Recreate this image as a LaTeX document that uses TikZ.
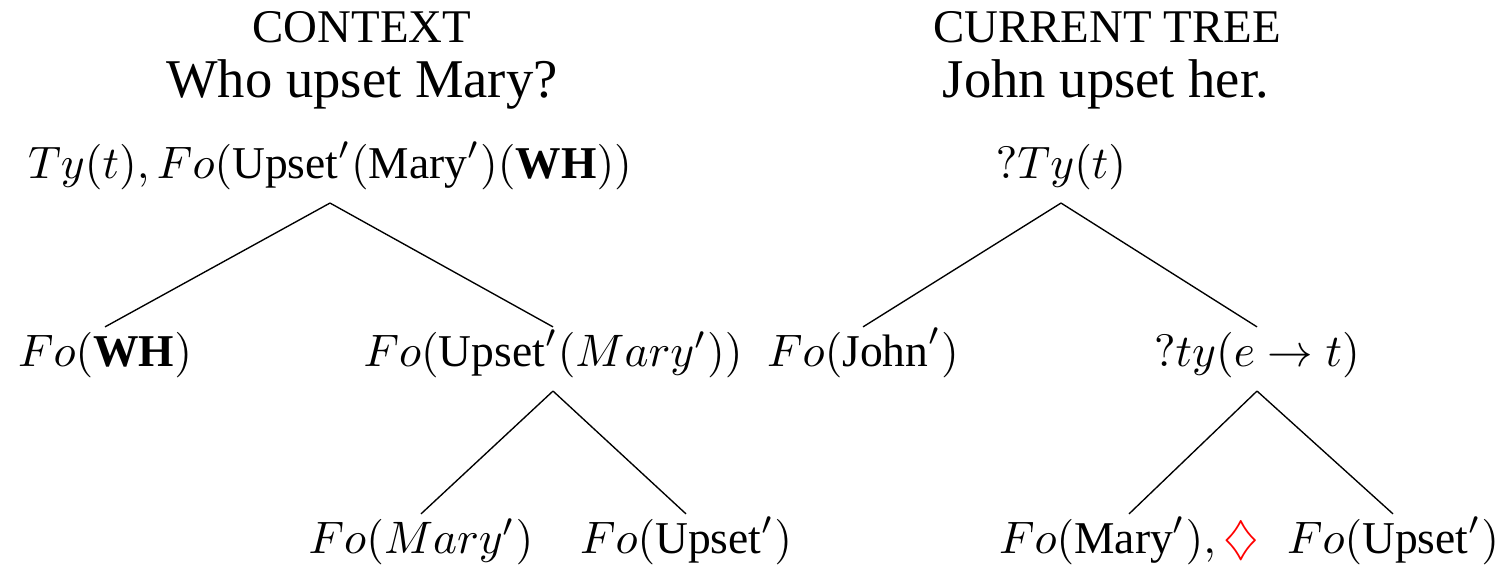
\documentclass[tikz,border=0pt]{standalone}
\usepackage[no-math]{fontspec}
\setmainfont{Liberation Serif}
\newcommand{\tw}[1]{\textnormal{#1}}
\newcommand{\tb}[1]{\textnormal{\bfseries #1}}
\begin{document}
\begin{tikzpicture}[x=0.21978pt, y=-0.21978pt,
  heading/.style={anchor=base, inner sep=0pt, font=\fontsize{10.3}{12}\selectfont},
  sentence/.style={anchor=base, inner sep=0pt, font=\fontsize{12}{14}\selectfont},
  treenode/.style={anchor=base, inner sep=0pt, text height=8.4pt, text depth=5.3pt},
  branch/.style={line width=0.3pt}]
\useasboundingbox (0,0) rectangle (1497,565);

% headings
\node[heading] (h1) at (362,42) {CONTEXT};
\node[sentence] (s1) at (362,97) {Who upset Mary?};
\node[heading] (h2) at (1107,42) {CURRENT TREE};
\node[sentence] (s2) at (1106,97) {John upset her.};

% context tree
\node[treenode] (c0) at (330,178) {$Ty(t), Fo(\tw{Upset}'(\tw{Mary}')(\tb{WH}))$};
\node[treenode] (c1) at (105,366) {$Fo(\tb{WH})$};
\node[treenode] (c2) at (553,366) {$Fo(\tw{Upset}'(Mary'))$};
\node[treenode] (c21) at (421,553) {$Fo(Mary')$};
\node[treenode] (c22) at (686,553) {$Fo(\tw{Upset}')$};

\draw[branch] (c0.south) -- (c1.north);
\draw[branch] (c0.south) -- (c2.north);
\draw[branch] (c2.south) -- (c21.north);
\draw[branch] (c2.south) -- (c22.north);

% current tree
\node[treenode] (t0) at (1061,178) {$?Ty(t)$};
\node[treenode] (t1) at (863,366) {$Fo(\tw{John}')$};
\node[treenode] (t2) at (1257,366) {$?ty(e \rightarrow t)$};
\node[treenode] (t21) at (1129,553) {$Fo(\tw{Mary}'), \textcolor{red}{\diamondsuit}$};
\node[treenode] (t22) at (1393,553) {$Fo(\tw{Upset}')$};

\draw[branch] (t0.south) -- (t1.north);
\draw[branch] (t0.south) -- (t2.north);
\draw[branch] (t2.south) -- (t21.north);
\draw[branch] (t2.south) -- (t22.north);
\end{tikzpicture}
\end{document}
